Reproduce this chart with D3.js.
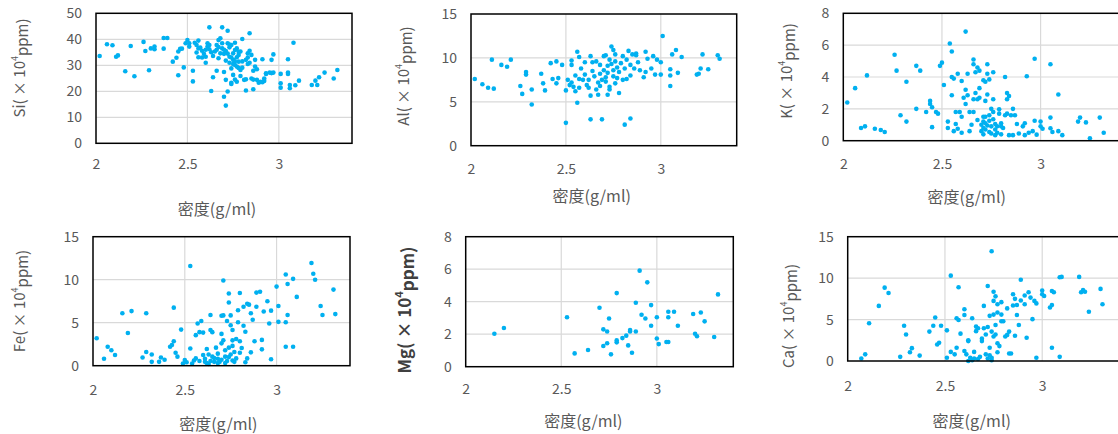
<!DOCTYPE html>
<html><head><meta charset="utf-8">
<script src="https://cdn.jsdelivr.net/npm/d3@7"></script>
<style>
html,body{margin:0;padding:0;background:#fff;overflow:hidden}
svg{display:block}
text{font-family:"Noto Sans CJK SC","Noto Sans",sans-serif}
</style></head><body>
<svg id="c" width="1118" height="434"></svg>
<script>
// ---- data: [density g/ml, content ×10^4 ppm] ----
const siData = [[2.02,33.6],[2.06,38.1],[2.09,37.7],[2.11,33.3],[2.12,33.8],[2.16,27.7],[2.19,37.4],[2.21,25.8],[2.26,39.0],[2.27,35.5],[2.29,28.1],[2.30,36.5],[2.32,37.2],[2.32,36.2],[2.37,40.5],[2.37,36.4],[2.39,40.5],[2.42,31.4],[2.44,32.9],[2.45,26.2],[2.45,35.3],[2.46,36.3],[2.47,36.4],[2.48,29.2],[2.49,38.5],[2.50,39.7],[2.51,37.2],[2.51,38.5],[2.53,27.9],[2.53,23.8],[2.54,38.7],[2.55,34.9],[2.55,37.8],[2.56,39.5],[2.56,33.1],[2.57,36.8],[2.58,35.6],[2.59,34.4],[2.60,31.0],[2.60,33.3],[2.61,38.5],[2.61,37.2],[2.62,44.6],[2.62,36.2],[2.63,20.1],[2.64,25.4],[2.64,33.6],[2.65,35.3],[2.66,27.9],[2.66,37.8],[2.67,32.7],[2.67,39.7],[2.68,34.6],[2.68,40.4],[2.69,44.6],[2.69,36.5],[2.70,34.4],[2.70,17.9],[2.70,27.4],[2.71,14.5],[2.71,31.8],[2.71,24.4],[2.72,38.5],[2.72,19.9],[2.72,43.3],[2.73,36.9],[2.73,33.3],[2.73,31.0],[2.74,23.3],[2.74,28.8],[2.74,37.8],[2.75,34.6],[2.75,32.1],[2.75,26.3],[2.76,30.1],[2.76,38.7],[2.76,35.9],[2.77,33.1],[2.77,29.5],[2.77,23.7],[2.78,34.0],[2.78,31.4],[2.79,35.3],[2.79,28.2],[2.79,25.9],[2.80,29.1],[2.80,40.1],[2.81,24.4],[2.82,20.3],[2.82,32.1],[2.83,34.6],[2.83,30.5],[2.84,42.3],[2.84,35.6],[2.85,24.9],[2.85,34.0],[2.86,27.9],[2.86,20.8],[2.87,32.1],[2.87,29.5],[2.88,24.4],[2.89,23.3],[2.90,23.7],[2.91,32.3],[2.92,24.9],[2.93,26.7],[2.95,27.2],[2.96,32.1],[2.97,34.2],[2.97,27.2],[3.01,26.7],[3.01,23.1],[3.01,21.4],[3.05,26.7],[3.05,32.3],[3.05,27.2],[3.06,22.4],[3.06,21.2],[3.08,38.7],[3.09,22.3],[3.11,24.1],[3.18,22.4],[3.20,24.1],[3.21,22.4],[3.22,25.4],[3.25,27.2],[3.30,24.9],[3.32,28.2],[2.58,33.0],[2.63,35.0],[2.70,36.0],[2.72,34.5],[2.74,33.0],[2.75,30.5],[2.76,31.5],[2.78,29.0],[2.77,36.5],[2.73,38.0],[2.71,35.5],[2.69,38.5],[2.66,36.0],[2.62,37.8],[2.60,36.0],[2.56,36.5],[2.80,31.5],[2.83,33.0],[2.88,28.5],[2.84,31.0],[2.92,24.0],[2.96,27.0],[2.86,24.5],[2.76,24.5],[2.74,22.8],[2.93,26.9],[2.91,23.5],[2.82,24.6],[2.78,35.2],[2.67,37.0]];
const alData = [[2.02,7.6],[2.06,7.0],[2.09,6.6],[2.11,9.8],[2.12,6.5],[2.16,9.2],[2.19,9.0],[2.21,9.8],[2.26,6.8],[2.27,5.9],[2.29,8.4],[2.29,8.1],[2.32,6.4],[2.32,4.7],[2.37,8.2],[2.38,7.1],[2.39,6.3],[2.42,9.4],[2.43,7.6],[2.45,9.6],[2.45,7.1],[2.46,7.7],[2.48,9.2],[2.50,6.3],[2.50,2.6],[2.51,7.5],[2.52,6.9],[2.53,9.7],[2.53,9.2],[2.53,7.2],[2.54,6.7],[2.55,6.2],[2.55,8.0],[2.56,4.9],[2.56,10.7],[2.57,10.1],[2.57,6.6],[2.57,7.6],[2.58,8.8],[2.59,7.5],[2.60,9.5],[2.60,8.1],[2.61,6.9],[2.62,7.5],[2.62,6.6],[2.63,3.0],[2.63,5.7],[2.63,10.2],[2.64,9.5],[2.64,8.5],[2.65,7.9],[2.66,9.6],[2.66,6.4],[2.67,5.8],[2.67,7.2],[2.68,9.2],[2.68,6.8],[2.68,8.2],[2.69,3.0],[2.69,7.5],[2.70,10.2],[2.70,8.6],[2.71,7.8],[2.71,10.3],[2.71,7.3],[2.72,8.3],[2.72,5.8],[2.72,9.1],[2.73,6.7],[2.73,9.8],[2.73,6.4],[2.74,9.3],[2.74,11.3],[2.75,7.9],[2.75,10.9],[2.75,8.6],[2.76,9.6],[2.76,7.1],[2.76,10.4],[2.77,7.7],[2.77,8.9],[2.78,6.0],[2.78,8.4],[2.79,9.4],[2.80,10.2],[2.80,7.5],[2.81,2.4],[2.81,8.8],[2.82,7.6],[2.82,9.8],[2.83,10.8],[2.84,8.0],[2.84,3.1],[2.84,9.2],[2.85,10.4],[2.86,8.8],[2.87,10.5],[2.87,10.3],[2.88,9.5],[2.89,8.6],[2.91,7.8],[2.92,10.7],[2.92,8.4],[2.93,9.9],[2.95,8.8],[2.96,10.2],[2.97,8.1],[2.98,9.8],[3.00,8.1],[3.00,9.5],[3.01,12.5],[3.05,8.7],[3.05,6.8],[3.05,8.0],[3.06,10.4],[3.08,10.9],[3.09,8.3],[3.11,10.1],[3.19,8.1],[3.20,8.2],[3.21,8.8],[3.22,10.4],[3.25,8.7],[3.30,10.3],[3.31,9.9]];
const kData = [[2.02,2.4],[2.06,3.3],[2.09,0.8],[2.11,0.9],[2.12,4.1],[2.16,0.75],[2.19,0.67],[2.21,0.55],[2.26,5.4],[2.27,4.4],[2.29,1.6],[2.32,3.7],[2.32,1.2],[2.37,4.7],[2.37,2.0],[2.39,4.4],[2.42,1.8],[2.44,2.5],[2.44,2.3],[2.45,0.85],[2.45,2.1],[2.47,1.8],[2.48,1.7],[2.49,4.7],[2.50,4.9],[2.51,3.5],[2.53,1.2],[2.53,0.8],[2.54,6.1],[2.55,2.85],[2.55,4.0],[2.55,5.6],[2.56,3.9],[2.56,0.6],[2.57,1.8],[2.57,1.05],[2.58,0.75],[2.58,4.2],[2.59,1.8],[2.60,1.5],[2.60,0.5],[2.60,3.75],[2.61,2.7],[2.62,3.2],[2.62,6.85],[2.62,2.3],[2.63,4.2],[2.63,2.85],[2.64,0.6],[2.64,1.8],[2.65,1.0],[2.66,2.6],[2.66,5.1],[2.66,4.8],[2.66,1.8],[2.67,4.3],[2.67,3.0],[2.68,4.6],[2.68,1.3],[2.68,2.6],[2.69,3.3],[2.69,2.7],[2.69,4.4],[2.70,1.0],[2.70,0.6],[2.71,1.2],[2.71,3.8],[2.71,0.4],[2.71,1.5],[2.72,3.7],[2.72,0.7],[2.72,1.5],[2.72,2.5],[2.73,4.2],[2.73,2.9],[2.73,4.8],[2.74,3.85],[2.74,1.6],[2.74,1.25],[2.74,0.55],[2.75,2.0],[2.75,0.9],[2.76,4.3],[2.76,1.8],[2.76,2.6],[2.77,0.35],[2.77,1.05],[2.77,0.7],[2.78,0.9],[2.79,1.97],[2.79,1.7],[2.80,0.9],[2.80,1.1],[2.81,0.8],[2.82,1.6],[2.82,4.0],[2.83,1.7],[2.83,2.6],[2.83,3.0],[2.84,2.8],[2.84,0.35],[2.85,1.6],[2.86,2.0],[2.86,0.35],[2.87,1.6],[2.88,1.05],[2.89,0.45],[2.91,0.9],[2.92,1.1],[2.92,0.35],[2.93,4.05],[2.94,0.5],[2.96,0.6],[2.97,1.25],[2.97,5.15],[2.98,0.38],[3.00,0.9],[3.00,1.2],[3.01,0.75],[3.05,0.78],[3.05,4.8],[3.05,1.45],[3.06,0.55],[3.09,2.9],[3.09,0.6],[3.11,0.35],[3.19,1.2],[3.20,1.45],[3.23,1.15],[3.25,0.15],[3.30,1.45],[3.32,0.5],[2.71,0.8],[2.73,0.95],[2.75,0.45],[2.78,0.5],[2.80,0.4],[2.72,1.1],[2.76,1.35]];
const feData = [[2.02,3.2],[2.06,0.8],[2.08,2.2],[2.10,1.8],[2.12,1.25],[2.16,6.1],[2.19,3.8],[2.21,6.35],[2.27,0.95],[2.29,6.1],[2.29,1.6],[2.32,0.45],[2.32,1.3],[2.36,0.45],[2.37,0.95],[2.39,0.7],[2.42,2.2],[2.43,2.4],[2.44,2.85],[2.44,6.75],[2.45,1.5],[2.46,1.05],[2.48,4.2],[2.49,0.25],[2.50,0.65],[2.51,0.4],[2.53,2.0],[2.53,11.6],[2.54,0.25],[2.55,0.6],[2.56,0.85],[2.56,3.55],[2.57,4.9],[2.58,3.9],[2.58,0.55],[2.59,5.2],[2.60,1.25],[2.60,3.85],[2.61,0.45],[2.61,0.8],[2.62,1.95],[2.62,0.3],[2.63,1.3],[2.64,5.9],[2.64,4.15],[2.64,0.55],[2.65,1.05],[2.65,3.9],[2.66,0.45],[2.67,2.1],[2.68,0.8],[2.68,0.3],[2.68,1.4],[2.69,0.45],[2.70,2.6],[2.70,5.8],[2.70,3.7],[2.71,2.95],[2.71,5.85],[2.71,9.9],[2.72,1.05],[2.72,1.8],[2.73,0.55],[2.73,5.2],[2.74,2.1],[2.74,7.35],[2.74,8.4],[2.75,4.7],[2.75,5.85],[2.75,1.3],[2.76,4.15],[2.76,2.3],[2.76,2.95],[2.77,0.45],[2.77,1.6],[2.78,3.1],[2.78,0.85],[2.79,5.05],[2.79,6.45],[2.80,8.45],[2.80,2.85],[2.81,2.05],[2.82,6.85],[2.82,4.65],[2.83,0.4],[2.83,3.95],[2.84,0.85],[2.84,7.2],[2.85,7.1],[2.86,6.1],[2.86,1.55],[2.87,5.35],[2.88,2.85],[2.89,8.5],[2.89,6.85],[2.91,8.6],[2.92,3.0],[2.92,1.9],[2.93,6.3],[2.95,7.5],[2.96,4.9],[2.97,0.75],[2.97,6.4],[3.00,9.2],[3.01,6.95],[3.01,5.1],[3.05,5.05],[3.05,10.6],[3.05,2.2],[3.06,9.5],[3.06,5.9],[3.09,2.2],[3.09,10.1],[3.11,8.0],[3.19,11.95],[3.20,10.7],[3.21,10.0],[3.24,6.95],[3.25,5.9],[3.31,8.85],[3.32,6.0],[2.63,0.2],[2.66,0.9],[2.70,0.7],[2.72,0.3],[2.74,1.0],[2.76,0.6],[2.80,1.5]];
const mgData = [[2.15,2.03],[2.20,2.38],[2.53,3.04],[2.57,0.82],[2.64,1.03],[2.70,3.63],[2.72,1.27],[2.72,2.30],[2.74,2.17],[2.74,1.44],[2.75,2.97],[2.76,0.76],[2.79,1.50],[2.79,1.62],[2.79,4.53],[2.82,1.76],[2.84,1.91],[2.85,1.31],[2.86,2.17],[2.86,2.26],[2.87,0.86],[2.89,3.94],[2.89,2.17],[2.91,5.91],[2.92,3.20],[2.94,2.97],[2.95,5.19],[2.97,2.52],[2.97,3.79],[3.00,3.04],[3.00,1.74],[3.01,1.39],[3.05,1.52],[3.06,3.38],[3.06,3.04],[3.06,1.52],[3.09,3.38],[3.11,2.52],[3.19,3.24],[3.20,2.03],[3.21,1.87],[3.23,3.34],[3.25,2.79],[3.30,1.83],[3.32,4.45]];
const caData = [[2.07,0.3],[2.09,0.8],[2.11,4.55],[2.16,6.65],[2.19,8.85],[2.21,8.2],[2.27,0.5],[2.29,4.25],[2.30,3.2],[2.32,1.05],[2.33,1.55],[2.37,0.65],[2.42,3.55],[2.44,4.25],[2.45,5.25],[2.46,2.0],[2.47,2.2],[2.48,4.25],[2.51,3.7],[2.51,0.4],[2.53,1.1],[2.53,10.3],[2.55,0.8],[2.56,1.6],[2.56,5.15],[2.57,4.95],[2.57,8.9],[2.58,3.3],[2.60,5.55],[2.60,6.25],[2.60,1.2],[2.61,0.8],[2.62,0.0],[2.62,2.5],[2.62,2.4],[2.63,0.4],[2.64,5.15],[2.64,0.1],[2.65,0.3],[2.65,1.1],[2.66,4.15],[2.66,3.6],[2.67,3.95],[2.67,0.25],[2.68,0.5],[2.69,2.4],[2.69,2.7],[2.70,3.95],[2.70,6.65],[2.71,0.8],[2.71,3.2],[2.72,0.3],[2.72,9.05],[2.72,4.1],[2.73,0.7],[2.73,1.6],[2.73,5.45],[2.74,0.1],[2.74,0.4],[2.74,3.55],[2.74,13.25],[2.75,2.95],[2.75,8.35],[2.75,5.6],[2.75,7.25],[2.76,4.35],[2.76,3.2],[2.76,7.8],[2.77,5.85],[2.77,6.85],[2.77,1.05],[2.77,2.15],[2.78,1.8],[2.79,4.8],[2.79,5.6],[2.79,7.1],[2.80,4.8],[2.81,2.95],[2.82,6.35],[2.82,3.15],[2.83,3.55],[2.83,0.9],[2.84,0.9],[2.85,6.7],[2.85,8.05],[2.86,3.05],[2.86,7.5],[2.87,6.75],[2.87,5.55],[2.88,4.35],[2.89,7.3],[2.89,9.8],[2.91,7.9],[2.91,6.85],[2.92,2.8],[2.93,8.3],[2.94,7.65],[2.95,5.05],[2.96,7.25],[2.97,0.4],[2.97,6.95],[3.00,8.5],[3.00,8.05],[3.01,7.85],[3.04,6.45],[3.05,6.75],[3.05,1.6],[3.05,8.45],[3.06,8.3],[3.09,0.5],[3.09,10.1],[3.10,10.15],[3.19,10.15],[3.20,8.3],[3.21,8.55],[3.22,8.35],[3.24,5.95],[3.30,8.7],[3.31,6.85]];

const xTicks = [2, 2.5, 3];
const ticks15 = [0, 5, 10, 15];
const ticks8 = [0, 2, 4, 6, 8];
const ticks50 = [0, 10, 20, 30, 40, 50];
const xTitle = "密度(g/ml)";
const elements = ["Si", "Al", "K", "Fe", "Mg", "Ca"];

// ---- layout ----
const panels = [
  {el:"Si", data:siData, yMax:50, yTicks:ticks50, L:96,  R:352,  T:13.3, B:143.3, ytx:18,  yty:68,  xtx:217,   xty:208, xl:163.3},
  {el:"Al", data:alData, yMax:15, yTicks:ticks15, L:471, R:736.7,T:14,   B:145.7, ytx:402, yty:76,  xtx:591.7, xty:195, xl:168.3},
  {el:"K",  data:kData,  yMax:8,  yTicks:ticks8,  L:843.3,R:1119.5,T:13.3,B:140.7, ytx:785, yty:71,  xtx:966.7, xty:196, xl:163.3},
  {el:"Fe", data:feData, yMax:15, yTicks:ticks15, L:93,  R:350,  T:236.7,B:365.7, ytx:18,  yty:301, xtx:218.3, xty:423, xl:389.3},
  {el:"Mg", data:mgData, yMax:8,  yTicks:ticks8,  L:465.7,R:733.3,T:236.7,B:366.7, ytx:403, yty:310, xtx:583.3, xty:420, xl:388.3, bold:true},
  {el:"Ca", data:caData, yMax:15, yTicks:ticks15, L:847.7,R:1120,T:236.7,B:361,   ytx:787, yty:316, xtx:971.7, xty:420, xl:385}
];

const svg = d3.select("#c");
const grey = "#595959";

panels.forEach(p => {
  const x = d3.scaleLinear().domain([2, 3.4]).range([p.L, p.R]);
  const y = d3.scaleLinear().domain([0, p.yMax]).range([p.B, p.T]);
  const g = svg.append("g");

  // gridlines
  g.selectAll(".hg").data(p.yTicks.filter(v => v > 0 && v < p.yMax)).join("line")
    .attr("x1", p.L).attr("x2", p.R).attr("y1", d => y(d)).attr("y2", d => y(d))
    .attr("stroke", "#d9d9d9").attr("stroke-width", 1.2);
  g.selectAll(".vg").data(xTicks.filter(v => v > 2)).join("line")
    .attr("y1", p.T).attr("y2", p.B).attr("x1", d => x(d)).attr("x2", d => x(d))
    .attr("stroke", "#d9d9d9").attr("stroke-width", 1.2);

  // points
  g.selectAll("circle").data(p.data).join("circle")
    .attr("cx", d => x(d[0])).attr("cy", d => y(d[1])).attr("r", 2.3)
    .attr("fill", "#00b0f0");

  // border
  g.append("rect").attr("x", p.L).attr("y", p.T).attr("width", p.R - p.L).attr("height", p.B - p.T)
    .attr("fill", "none").attr("stroke", "#000").attr("stroke-width", 1.5);

  // y axis labels
  const ya = d3.axisLeft(y).tickValues(p.yTicks).tickSize(0).tickPadding(14).tickFormat(d3.format("d"));
  const yg = g.append("g").attr("transform", `translate(${p.L},0)`).call(ya);
  yg.select(".domain").remove();
  yg.selectAll("text").attr("fill", grey).style("font-size", "14px");

  // x axis labels (centred at p.xl)
  const xa = d3.axisBottom(x).tickValues(xTicks).tickSize(0).tickPadding(0).tickFormat(d => d);
  const xg = g.append("g").attr("transform", `translate(0,${p.xl})`).call(xa);
  xg.select(".domain").remove();
  xg.selectAll("text").attr("fill", grey).style("font-size", "14px")
    .attr("y", 0).attr("dy", null).attr("dominant-baseline", "central");

  // x title
  g.append("text").attr("x", p.xtx).attr("y", p.xty).attr("text-anchor", "middle")
    .attr("dominant-baseline", "central").attr("fill", grey).style("font-size", "16px").text(xTitle);

  // y title
  const yt = g.append("text").attr("transform", `translate(${p.ytx},${p.yty}) rotate(-90)`)
    .attr("text-anchor", "middle").attr("dominant-baseline", "central")
    .attr("fill", p.bold ? "#404040" : grey)
    .style("font-size", p.bold ? "17px" : "15px").style("font-weight", p.bold ? "bold" : "normal");
  yt.append("tspan").text(p.el + "( × 10");
  yt.append("tspan").text("4").style("font-size", p.bold ? "11px" : "9px").attr("dy", "-0.5em");
  yt.append("tspan").text("ppm)").attr("dy", "0.5em");
});
</script>
</body></html>
